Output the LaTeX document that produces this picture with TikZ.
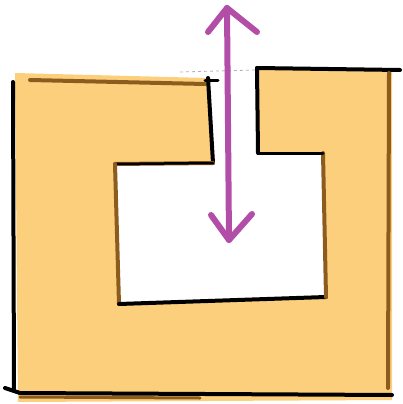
\documentclass[tikz,border=0pt]{standalone}
\begin{document}
\begin{tikzpicture}[x=1pt,y=-1pt,
  blk/.style={draw=black,line width=4pt,line cap=round,line join=round},
  brn/.style={draw=brownline,line width=4pt,line cap=round,line join=round},
  arr/.style={draw=purp,line width=6pt,line cap=round,line join=round}]
\definecolor{fillor}{RGB}{252,207,124}
\definecolor{brownline}{RGB}{140,92,30}
\definecolor{purp}{RGB}{178,78,168}
\useasboundingbox (0,0) rectangle (402,404);
% filled C shape with slot
\fill[fillor] (15,73) -- (207,78) -- (212,163) -- (115,164) -- (119,304)
  -- (326,297) -- (323,153) -- (258,153) -- (257,68) -- (392,70)
  -- (392,400) -- (18,402) -- cycle;
% outlines
\coordinate (a1) at (13,82);
\coordinate (a2) at (14,390);
\draw[blk] (a1) -- (a2);
\coordinate (b1) at (30,80);
\coordinate (b2) at (205,84);
\draw[brn] (b1) -- (b2);
\coordinate (c1) at (205,80);
\coordinate (c2) at (218,80);
\draw[blk,line width=3pt] (c1) -- (c2);
\coordinate (d1) at (208,78);
\coordinate (d2) at (213,163);
\draw[blk] (d1) -- (d2);
\coordinate (e1) at (115,164);
\draw[brn] (d2) -- (e1);
\draw[blk,line width=2.5pt] (d2) -- (e1);
\coordinate (f1) at (119,304);
\draw[brn] (e1) -- (f1);
\coordinate (g1) at (326,297);
\draw[blk] (f1) -- (g1);
\coordinate (h1) at (323,153);
\draw[brn] (g1) -- (h1);
\coordinate (i1) at (258,153);
\draw[blk,line width=3pt] (h1) -- (i1);
\coordinate (j1) at (257,68);
\draw[blk] (i1) -- (j1);
\coordinate (k1) at (400,70);
\draw[blk] (j1) -- (k1);
\coordinate (l1) at (389,73);
\coordinate (l2) at (388,388);
\draw[brn] (l1) -- (l2);
\coordinate (m1) at (5,388);
\coordinate (m2) at (20,393);
\coordinate (m3) at (392,395);
\draw[blk] (m1) -- (m2) -- (m3);
\coordinate (n1) at (20,397);
\coordinate (n2) at (200,398);
\draw[brn,line width=3pt] (n1) -- (n2);
\coordinate (o1) at (180,72);
\coordinate (o2) at (255,70);
\draw[gray!60,dashed,line width=0.8pt] (o1) -- (o2);
% purple double arrow
\coordinate (p1) at (227,8);
\coordinate (p2) at (229,240);
\draw[arr] (p1) -- (p2);
\draw[arr] (208,32) -- (p1) -- (257,32);
\draw[arr] (211,215) -- (p2) -- (252,214);
\end{tikzpicture}
\end{document}
